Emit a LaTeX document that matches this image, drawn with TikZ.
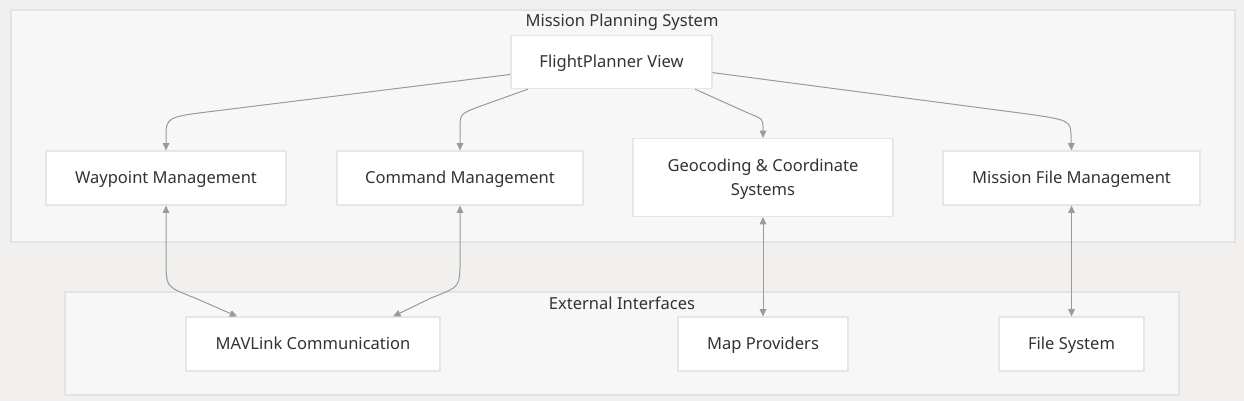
\documentclass[tikz,border=0pt]{standalone}
\usepackage{fontspec}
\setmainfont{Noto Sans}
\usetikzlibrary{arrows.meta}
\definecolor{pagebg}{HTML}{F1F0EF}
\definecolor{groupbg}{HTML}{F7F7F7}
\definecolor{groupline}{HTML}{E3E3E3}
\definecolor{boxline}{HTML}{E6E6E6}
\definecolor{txt}{HTML}{333333}
\definecolor{edge}{HTML}{9A9A9A}
\begin{document}
\begin{tikzpicture}[x=0.75pt, y=-0.75pt,
  every node/.style={font=\fontsize{12.4}{18}\selectfont, text=txt, text depth=0.5pt},
  box/.style={draw=boxline, fill=white, line width=0.9pt, align=center, minimum height=40.5pt, inner sep=0pt},
  group/.style={draw=groupline, fill=groupbg, line width=0.9pt},
  arr/.style={draw=edge, line width=0.75pt, -{Triangle[length=5.5pt,width=5pt]}},
  biarr/.style={draw=edge, line width=0.75pt, {Triangle[length=5.5pt,width=5pt]}-{Triangle[length=5.5pt,width=5pt]}}]
  \fill[pagebg] (0, 0) rectangle (1244, 401);
  \draw[group] (11, 10) rectangle (1235, 242);
  \draw[group] (65, 292) rectangle (1179, 395);
  \node (mps) at (622, 21) {Mission Planning System};
  \node (ext) at (622, 303) {External Interfaces};
  \node[box, minimum width=150.75pt, minimum height=39.75pt] (fp) at (611.5, 62) {FlightPlanner View};
  \node[box, minimum width=180pt] (wp) at (166, 178) {Waypoint Management};
  \node[box, minimum width=184.5pt] (cmd) at (460, 178) {Command Management};
  \node[box, minimum width=195pt, minimum height=58.5pt] (geo) at (763, 177.5) {Geocoding \& Coordinate\\Systems};
  \node[box, minimum width=192.75pt] (mfm) at (1071.5, 178) {Mission File Management};
  \node[box, minimum width=190.5pt] (mav) at (313, 344) {MAVLink Communication};
  \node[box, minimum width=127.5pt] (map) at (763, 344) {Map Providers};
  \node[box, minimum width=108.75pt] (fs) at (1071.5, 344) {File System};
  \draw[arr] (fp.187) -- (215, 111) .. controls (166, 117) .. (166, 138) -- (wp.north);
  \draw[arr] (fp.198) -- (478, 107) .. controls (460, 114) .. (460, 130) -- (cmd.north);
  \draw[arr] (fp.342) -- (748, 113) .. controls (763, 119) .. (763, 128) -- (geo.north);
  \draw[arr] (fp.354) -- (1020, 113) .. controls (1071, 120) .. (1071, 138) -- (mfm.north);
  \draw[biarr] (wp.south) -- (166, 268) .. controls (167, 287) .. (195, 298) -- (mav.160);
  \draw[biarr] (cmd.south) -- (460, 268) .. controls (459, 287) .. (431, 298) -- (mav.19);
  \draw[biarr] (geo.south) -- (map.north);
  \draw[biarr] (mfm.south) -- (fs.north);
\end{tikzpicture}
\end{document}
